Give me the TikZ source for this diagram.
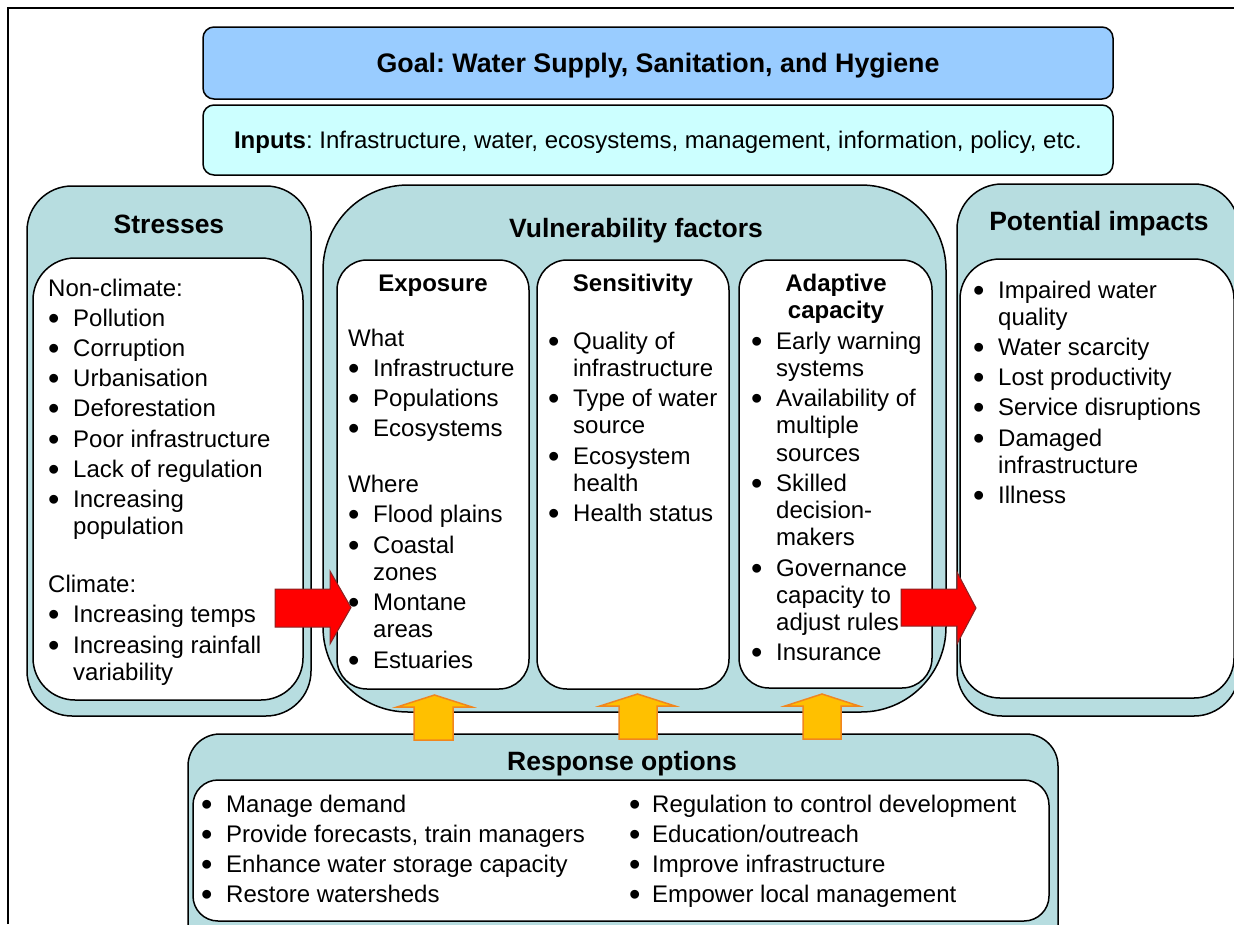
\documentclass[tikz,border=0pt]{standalone}
\usepackage{graphicx}
\usepackage{fontspec}
\setmainfont{Liberation Sans}
\frenchspacing

\definecolor{goalfill}{HTML}{99CCFF}
\definecolor{inputfill}{HTML}{CCFFFF}
\definecolor{tealfill}{HTML}{B7DDE0}
\definecolor{arrowred}{HTML}{FF0000}
\definecolor{arrowredline}{HTML}{8B2323}
\definecolor{amberfill}{HTML}{FFC000}
\definecolor{amberline}{HTML}{F0861E}

% bullet lists set inside fixed-width nodes; each entry ends its own paragraph
\newlength\bulind
\newcommand\bodyset{\fontsize{24}{27.3}\selectfont\spaceskip=0pt\xspaceskip=0pt\setlength{\parskip}{2.9pt}\setlength{\bulind}{25pt}}
\newcommand\bigdot{\raisebox{-3pt}{\scalebox{1.35}{\textbullet}}}
\newcommand\bul[1]{\noindent\hangindent=\bulind\hangafter=1\makebox[\bulind][l]{\bigdot}#1\par}
\newcommand\lbl[1]{\noindent #1\par}
\newcommand\gap[1]{\vspace{#1}}

\begin{document}
\begin{tikzpicture}[x=1pt,y=-1pt,
  box/.style={draw=black, line width=1.5pt, inner sep=0pt, outer sep=0pt},
  tealbox/.style={box, fill=tealfill},
  whitebox/.style={box, fill=white},
  hdr/.style={anchor=base, inner sep=0pt, font=\fontsize{26.5}{30}\selectfont\bfseries},
  subhdr/.style={anchor=base, inner sep=0pt, font=\fontsize{24}{27}\selectfont\bfseries},
  plain/.style={anchor=base, inner sep=0pt, font=\fontsize{24}{27}\selectfont},
  blist/.style={anchor=base west, inner sep=0pt, align=left, text width=#1},
  redarrow/.style={fill=arrowred, draw=arrowredline, line width=1pt, line join=miter},
  uparrow/.style={fill=amberfill, draw=amberline, line width=1.5pt, line join=miter},
]
\useasboundingbox (0,0) rectangle (1234,924);
\clip (0,0) rectangle (1234,924);

% page frame
\draw[line width=2pt] (8,924) -- (8,8) -- (1234,8);

% goal and inputs bars
\node[box, fill=goalfill, rounded corners=11pt, minimum width=910pt, minimum height=72pt] (goal) at (658,63) {};
\node[box, fill=inputfill, rounded corners=11pt, minimum width=910pt, minimum height=70pt] (inputs) at (658,140) {};
\node[hdr, font=\fontsize{26.8}{30}\selectfont\bfseries] (goaltxt) at (658,72.5) {Goal: Water Supply, Sanitation, and Hygiene};
\node[plain] (inputstxt) at (658,148) {\textbf{Inputs}: Infrastructure, water, ecosystems, management, information, policy, etc.};

% stresses
\node[tealbox, rounded corners=45pt, minimum width=284pt, minimum height=530pt] (stressOuter) at (169,451) {};
\node[whitebox, rounded corners=42pt, minimum width=270pt, minimum height=442pt] (stressInner) at (168,479) {};
\node[hdr] (stressHdr) at (169,233) {Stresses};
\node[blist=260pt] (stressList) at (48,296) {\bodyset
  \lbl{Non-climate:}
  \bul{Pollution}
  \bul{Corruption}
  \bul{Urbanisation}
  \bul{Deforestation}
  \bul{Poor infrastructure}
  \bul{Lack of regulation}
  \bul{Increasing\newline population}
  \gap{27.8pt}
  \lbl{Climate:}
  \bul{Increasing temps}
  \bul{Increasing rainfall\newline variability}};

% vulnerability factors
\node[tealbox, rounded corners=85pt, minimum width=623pt, minimum height=527pt] (vulnOuter) at (634.5,448.5) {};
\node[whitebox, rounded corners=30pt, minimum width=192pt, minimum height=429pt] (expo) at (433,474.5) {};
\node[whitebox, rounded corners=30pt, minimum width=192pt, minimum height=429pt] (sens) at (633,474.5) {};
\node[whitebox, rounded corners=30pt, minimum width=193pt, minimum height=428pt] (adapt) at (835.5,474) {};
\node[hdr] (vulnHdr) at (636,237) {Vulnerability factors};
\node[subhdr] (expoHdr) at (433,291) {Exposure};
\node[subhdr] (sensHdr) at (633,291) {Sensitivity};
\node[subhdr] (adaptHdrA) at (836,291) {Adaptive};
\node[subhdr] (adaptHdrB) at (836,318) {capacity};
\node[blist=180pt] (expoList) at (348,346) {\bodyset
  \lbl{What}
  \bul{Infrastructure}
  \bul{Populations}
  \bul{Ecosystems}
  \gap{25.8pt}
  \lbl{Where}
  \bul{Flood plains}
  \bul{Coastal\newline zones}
  \bul{Montane\newline areas}
  \bul{Estuaries}};
\node[blist=180pt] (sensList) at (548,349) {\bodyset
  \bul{Quality of\newline infrastructure}
  \bul{Type of water\newline source}
  \bul{Ecosystem\newline health}
  \bul{Health status}};
\node[blist=180pt] (adaptList) at (751,349) {\bodyset
  \bul{Early warning\newline systems}
  \bul{Availability of\newline multiple\newline sources}
  \bul{Skilled\newline decision-\newline makers}
  \bul{Governance\newline capacity to\newline adjust rules}
  \bul{Insurance}};

% potential impacts
\node[tealbox, rounded corners=45pt, minimum width=282pt, minimum height=532pt] (impOuter) at (1098,450) {};
\node[whitebox, rounded corners=40pt, minimum width=274pt, minimum height=439pt] (impInner) at (1097,478.5) {};
\node[hdr] (impHdr) at (1099,230) {Potential impacts};
\node[blist=260pt] (impList) at (973,298) {\bodyset
  \bul{Impaired water\newline quality}
  \bul{Water scarcity}
  \bul{Lost productivity}
  \bul{Service disruptions}
  \bul{Damaged\newline infrastructure}
  \bul{Illness}};

% response options
\node[tealbox, rounded corners=32pt, minimum width=870pt, minimum height=240pt] (respOuter) at (623,854) {};
\node[whitebox, rounded corners=25pt, minimum width=856pt, minimum height=141pt] (respInner) at (621,850.5) {};
\node[hdr] (respHdr) at (622,770) {Response options};
\node[blist=420pt] (respLeft) at (201,812) {\bodyset
  \bul{Manage demand}
  \bul{Provide forecasts, train managers}
  \bul{Enhance water storage capacity}
  \bul{Restore watersheds}};
\node[blist=420pt] (respRight) at (629,812) {\bodyset\setlength{\bulind}{23pt}%
  \bul{Regulation to control development}
  \bul{Education/outreach}
  \bul{Improve infrastructure}
  \bul{Empower local management}};

% block arrows: stresses -> vulnerability -> impacts
\draw[redarrow] (275,589) -- (330,589) -- (330,571) -- (351,607.5) -- (330,644) -- (330,627) -- (275,627) -- cycle;
\draw[redarrow] (901,589) -- (957,589) -- (957,572) -- (976,608) -- (957,644) -- (957,626) -- (901,626) -- cycle;

% block arrows: response options -> vulnerability factors
\draw[uparrow] (414,740) -- (414,707) -- (397,707) -- (434.5,695) -- (472,707) -- (453,707) -- (453,740) -- cycle;
\draw[uparrow] (619,739) -- (619,706) -- (600,706) -- (637.5,694) -- (675,706) -- (657,706) -- (657,739) -- cycle;
\draw[uparrow] (803,739) -- (803,706) -- (785,706) -- (822,694) -- (859,706) -- (841,706) -- (841,739) -- cycle;
\end{tikzpicture}
\end{document}
